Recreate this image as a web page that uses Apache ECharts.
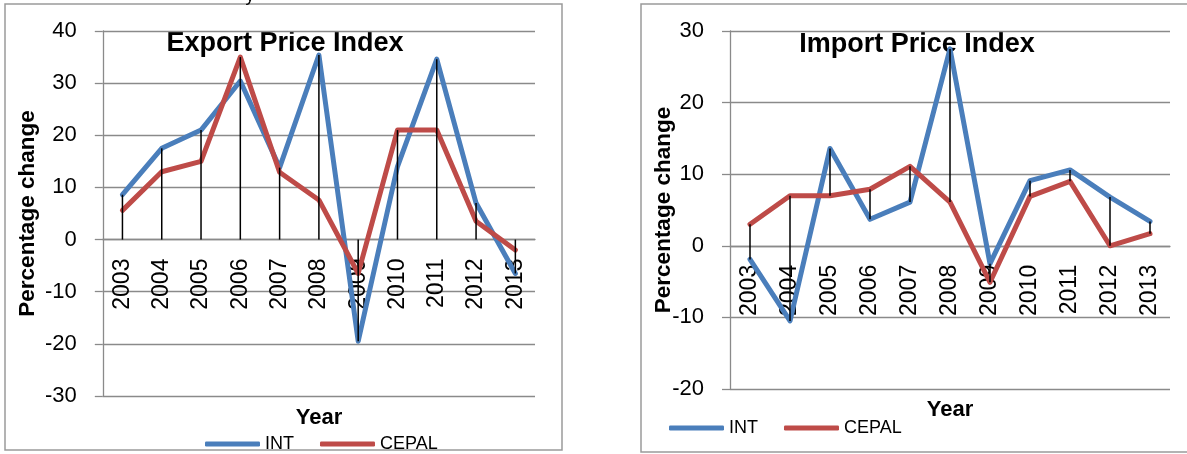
<!DOCTYPE html>
<html>
<head>
<meta charset="utf-8">
<script src="https://cdn.jsdelivr.net/npm/echarts@6/dist/echarts.min.js"></script>
<style>
  html, body { margin: 0; padding: 0; background: #ffffff; }
  #chart { width: 1187px; height: 454px; }
</style>
</head>
<body>
<div id="chart"></div>
<script>
// Years on the category axis
const years = ['2003', '2004', '2005', '2006', '2007', '2008', '2009', '2010', '2011', '2012', '2013'];

// Export price index, percentage change
const exportINT   = [8.6, 17.5, 21, 30.4, 13.8, 35.4, -19.5, 14, 34.6, 7, -6.5];
const exportCEPAL = [5.6, 13, 15, 35, 12.9, 7.6, -6.5, 21, 21, 3.5, -2];

// Import price index, percentage change
const importINT   = [-1.9, -10.5, 13.6, 3.7, 6.1, 27.5, -2.5, 9.1, 10.6, 6.8, 3.4];
const importCEPAL = [3, 7, 7, 7.9, 11.1, 6.1, -5.1, 6.9, 9, 0, 1.7];

// Axis ranges
const exportAxis = { min: -30, max: 40, interval: 10 };
const importAxis = { min: -20, max: 30, interval: 10 };

const FONT = "'Liberation Sans', Arial, sans-serif";
const BLUE = '#4a7ebb';
const RED = '#be4b48';
const GRID_GRAY = '#8a8a8a';

// Plot rectangles of the two charts
const exportGrid = { left: 102.8, top: 31, width: 432.2, height: 365 };
const importGrid = { left: 730, top: 31, width: 440, height: 358 };

// Drop lines: from the axis (0) to the farthest point of either series
const dropData = years.map((y, i) => {
  const vals = [0, exportINT[i], exportCEPAL[i]];
  return [i, Math.min(...vals), Math.max(...vals)];
});
// High-low lines: between the two series
const hiloData = years.map((y, i) => {
  const vals = [importINT[i], importCEPAL[i]];
  return [i, Math.min(...vals), Math.max(...vals)];
});

function verticalSegment(params, api) {
  const p1 = api.coord([api.value(0), api.value(1)]);
  const p2 = api.coord([api.value(0), api.value(2)]);
  return {
    type: 'line',
    shape: { x1: p1[0], y1: p1[1], x2: p2[0], y2: p2[1] },
    style: { stroke: '#000000', lineWidth: 1.5 }
  };
}

// The category axis crosses the value axis at 0
function zeroOffset(grid, range) {
  const zeroFromBottom = grid.height * (0 - range.min) / (range.max - range.min);
  return -zeroFromBottom;
}

function xAxisFor(gridIndex, grid, range) {
  return {
    type: 'category',
    gridIndex,
    data: years,
    boundaryGap: true,
    position: 'bottom',
    offset: zeroOffset(grid, range),
    axisLine: { onZero: false, lineStyle: { color: GRID_GRAY, width: 1.3 } },
    axisTick: { show: false },
    axisLabel: { rotate: 90, margin: 19, fontSize: 23, color: '#000', fontFamily: FONT }
  };
}

function yAxisFor(gridIndex, range) {
  return {
    type: 'value',
    gridIndex,
    min: range.min,
    max: range.max,
    interval: range.interval,
    axisLine: { show: true, lineStyle: { color: GRID_GRAY, width: 1.3 } },
    axisTick: { show: true, length: 8, lineStyle: { color: GRID_GRAY, width: 1.3 } },
    axisLabel: { margin: 26, fontSize: 22, color: '#000', fontFamily: FONT },
    splitLine: { show: true, lineStyle: { color: GRID_GRAY, width: 1.3 } }
  };
}

function lineSeries(name, data, color, idx) {
  return {
    name,
    type: 'line',
    xAxisIndex: idx,
    yAxisIndex: idx,
    data,
    symbol: 'none',
    z: 2,
    color,
    lineStyle: { color, width: 5, join: 'round', cap: 'round' }
  };
}

function textEl(text, x, y, size, bold, rotation) {
  return {
    type: 'text',
    x, y,
    rotation: rotation || 0,
    style: {
      text,
      fill: '#000',
      font: (bold ? 'bold ' : '') + size + 'px ' + FONT,
      align: 'center',
      verticalAlign: 'middle'
    }
  };
}

function legendFor(left, top) {
  return {
    data: ['INT', 'CEPAL'],
    left, top,
    padding: 0,
    orient: 'horizontal',
    icon: 'roundRect',
    itemWidth: 55,
    itemHeight: 5,
    itemGap: 26,
    textStyle: { fontSize: 18, color: '#000', fontFamily: FONT, lineHeight: 20 },
    selectedMode: false
  };
}

const chart = echarts.init(document.getElementById('chart'), null, { renderer: 'canvas' });

chart.setOption({
  animation: false,
  backgroundColor: '#ffffff',
  grid: [exportGrid, importGrid],
  xAxis: [xAxisFor(0, exportGrid, exportAxis), xAxisFor(1, importGrid, importAxis)],
  yAxis: [yAxisFor(0, exportAxis), yAxisFor(1, importAxis)],
  legend: [legendFor(205, 434), legendFor(669, 418)],
  series: [
    lineSeries('INT', exportINT, BLUE, 0),
    lineSeries('CEPAL', exportCEPAL, RED, 0),
    {
      type: 'custom',
      xAxisIndex: 0, yAxisIndex: 0,
      data: dropData,
      encode: { x: 0, y: [1, 2] },
      renderItem: verticalSegment,
      z: 3,
      silent: true
    },
    lineSeries('INT', importINT, BLUE, 1),
    lineSeries('CEPAL', importCEPAL, RED, 1),
    {
      type: 'custom',
      xAxisIndex: 1, yAxisIndex: 1,
      data: hiloData,
      encode: { x: 0, y: [1, 2] },
      renderItem: verticalSegment,
      z: 3,
      silent: true
    }
  ],
  graphic: [
    // chart frames
    { type: 'rect', shape: { x: 5, y: 4, width: 557, height: 446 },
      style: { fill: 'none', stroke: '#9a9a9a', lineWidth: 1.5 }, z: -1 },
    { type: 'rect', shape: { x: 641, y: 4, width: 600, height: 448 },
      style: { fill: 'none', stroke: '#9a9a9a', lineWidth: 1.5 }, z: -1 },
    // caption text running above the frame
    { type: 'text', x: 250, y: 5, style: { text: 'y', fill: '#000', font: '18px ' + FONT, align: 'center', verticalAlign: 'bottom' } },
    // titles
    textEl('Export Price Index', 285, 44, 27, true),
    textEl('Import Price Index', 917, 45, 27, true),
    // axis titles
    textEl('Percentage change', 28, 213.5, 22.5, true, Math.PI / 2),
    textEl('Percentage change', 664, 210, 22.5, true, Math.PI / 2),
    textEl('Year', 319, 418, 22, true),
    textEl('Year', 950, 410, 22, true)
  ]
});
</script>
</body>
</html>
